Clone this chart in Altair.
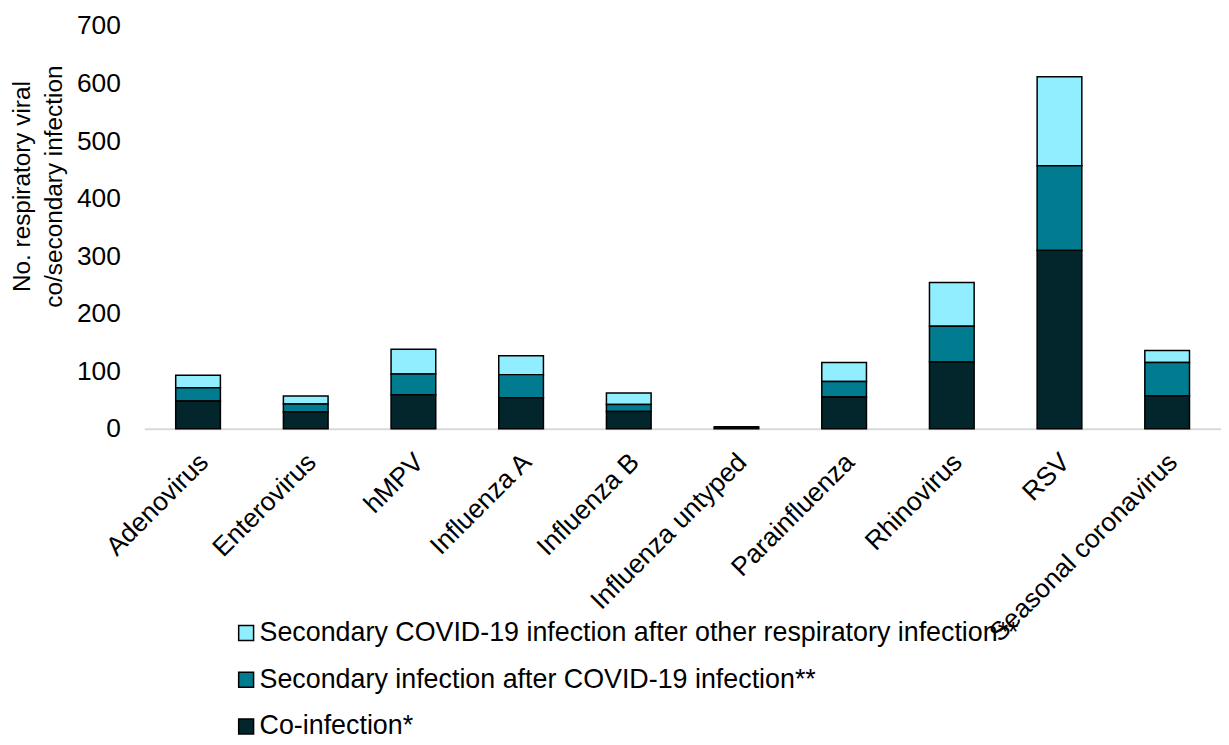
import altair as alt
import pandas as pd

categories = ["Adenovirus", "Enterovirus", "hMPV", "Influenza A", "Influenza B",
              "Influenza untyped", "Parainfluenza", "Rhinovirus", "RSV", "Seasonal coronavirus"]
co_infection = [48, 29, 59, 54, 30, 3, 55, 116, 310, 57]
secondary_after_covid = [23, 14, 36, 40, 12, 0, 27, 62, 147, 58]
secondary_covid_after_other = [22, 14, 43, 33, 20, 0, 33, 76, 155, 21]

series = ["Secondary COVID-19 infection after other respiratory infection**",
          "Secondary infection after COVID-19 infection**",
          "Co-infection*"]
colors = ["#91EEFF", "#007B8F", "#02262B"]
stack_rank = {series[2]: 0, series[1]: 1, series[0]: 2}

rows = []
for i, c in enumerate(categories):
    for s, vals in zip(series, [secondary_covid_after_other, secondary_after_covid, co_infection]):
        rows.append({"Virus": c, "Type": s, "Value": vals[i], "order": stack_rank[s]})
df = pd.DataFrame(rows)

FONT = "Liberation Sans"
FS = 26.5

chart = alt.Chart(df).mark_bar(stroke="black", strokeWidth=1.5).encode(
    x=alt.X("Virus:N", sort=categories,
            scale=alt.Scale(paddingInner=0.585, paddingOuter=0.2925),
            axis=alt.Axis(title=None, labelAngle=-45, labelFontSize=FS, labelFont=FONT,
                          labelColor="black", ticks=False, domainColor="#d9d9d9",
                          domainWidth=2, labelPadding=20, labelOffset=-3, labelLimit=400)),
    y=alt.Y("Value:Q", stack="zero",
            scale=alt.Scale(domain=[0, 700]),
            axis=alt.Axis(values=[0, 100, 200, 300, 400, 500, 600, 700],
                          title=["No. respiratory viral", "co/secondary infection"],
                          titleFontSize=24.5, titleFont=FONT, titleFontWeight="normal",
                          titleColor="black", titleX=-122, titleY=161, titleLineHeight=32,
                          titleAlign="center", titleBaseline="middle", titleAngle=-90,
                          labelFontSize=FS, labelFont=FONT, labelColor="black",
                          ticks=False, domain=False, grid=False, labelPadding=24)),
    color=alt.Color("Type:N", sort=series,
                    scale=alt.Scale(domain=series, range=colors),
                    legend=alt.Legend(title=None, orient="none", legendX=89, legendY=597,
                                      direction="vertical", symbolType="square",
                                      symbolSize=225, symbolStrokeColor="black",
                                      symbolStrokeWidth=1.5, labelFontSize=27,
                                      labelFont=FONT, labelColor="black", rowPadding=19,
                                      labelLimit=900, labelOffset=0, padding=0)),
    order=alt.Order("order:Q", sort="ascending"),
).properties(
    width=1083, height=405,
    autosize=alt.AutoSizeParams(type="none"),
    padding={"left": 137, "top": 16, "right": 0, "bottom": 316},
).configure_view(stroke=None)

chart.save("out.html", embed_options={"renderer": "svg", "actions": False})
